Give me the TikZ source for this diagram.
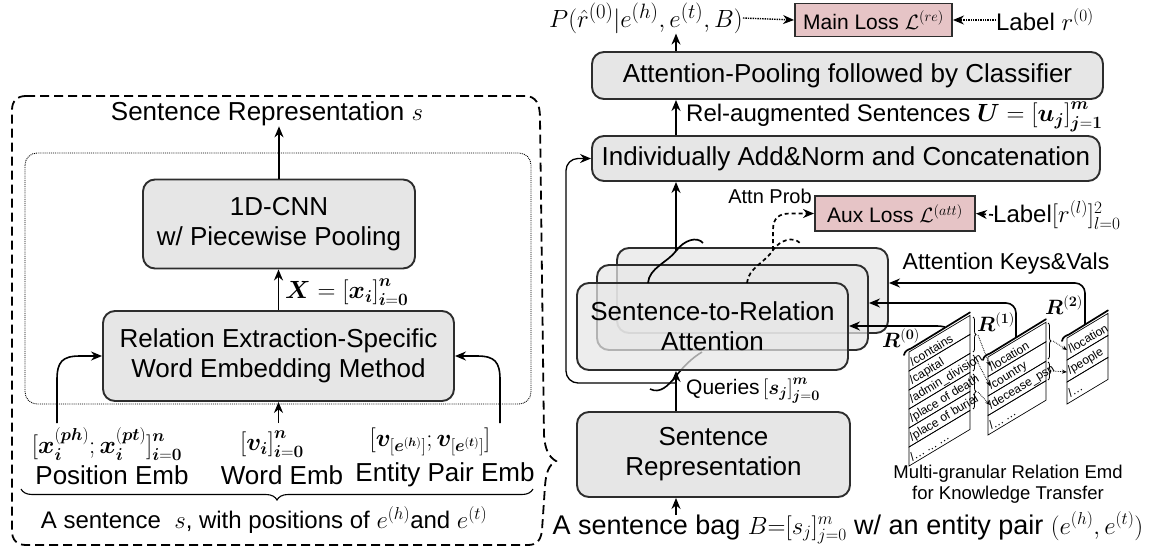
\documentclass[tikz,border=0pt]{standalone}
\usepackage{amsmath,amssymb}
\usepackage[no-math]{fontspec}
\setmainfont{Liberation Sans}
\usetikzlibrary{arrows.meta,decorations.pathreplacing,calc}
\DeclareMathAlphabet{\mathbi}{OML}{cmm}{b}{it}
\definecolor{boxfill}{RGB}{230,230,230}
\definecolor{pinkfill}{RGB}{230,196,198}
\definecolor{edgecol}{RGB}{45,45,45}
\newcommand{\tabdots}{.\kern0.5pt.\kern0.5pt.}
\newcommand{\reltab}[5]{%
  \foreach \txt [count=\k] in {#5} {
    \pgfmathsetmacro\ya{#2+(\k-1)*#4}
    \pgfmathsetmacro\yb{#2+\k*#4}
    \pgfmathsetmacro\ym{#2+(\k-0.5)*#4}
    \draw[tabline] (#1,\ya) -- (#1+#3,\ya-0.6*#3) -- (#1+#3,\yb-0.6*#3) -- (#1,\yb) -- cycle;
    \node[tabtxt] at (#1+1.5,\ym+1) {\txt};
  }
  \draw[line width=1.7pt, line cap=round] (#1-5,#2+3) .. controls (#1-4,#2-1) and (#1-2,#2-2) .. (#1+2,#2-3.5) -- (#1+#3,#2-0.6*#3-3);
}
\begin{document}
\begin{tikzpicture}[x=1pt,y=-1pt,
  rbox/.style={draw=edgecol, line width=1.9pt, fill=boxfill, rounded corners=12pt, align=center, inner sep=0pt, font=\fontsize{26}{30}\selectfont},
  stackbox/.style={rbox, fill opacity=0.72, text opacity=1},
  lossbox/.style={draw=edgecol, line width=1.9pt, fill=pinkfill, inner sep=0pt, font=\fontsize{21}{24}\selectfont},
  arr/.style={-{Stealth[length=11pt,width=9pt]}, line width=1.6pt},
  dotarr/.style={-{Stealth[length=11pt,width=9pt]}, line width=1.4pt, densely dotted},
  dasharr/.style={-{Stealth[length=11pt,width=9pt]}, line width=1.7pt, dash pattern=on 4pt off 3pt},
  ltxt/.style={font=\fontsize{24}{28}\selectfont, inner sep=0pt},
  btxt/.style={font=\fontsize{26}{30}\selectfont, inner sep=0pt},
  stxt/.style={font=\fontsize{20}{23}\selectfont, inner sep=0pt},
  tabline/.style={line width=0.7pt},
  tabtxt/.style={font=\fontsize{12}{13}\selectfont, inner sep=0pt, anchor=west, rotate=31},
  smallbrace/.style={decorate, decoration={brace, amplitude=3pt}, line width=0.8pt},
  tabarr/.style={-{Stealth[length=5pt,width=4pt]}, line width=0.8pt, densely dotted},
]
\useasboundingbox (0,0) rectangle (1157,550);

%================ LEFT PART =================
\draw[line width=1.8pt, dash pattern=on 9pt off 5pt]
  (26,96) -- (525,96) .. controls (536,96) and (540,104) .. (540,118)
  -- (544,435) .. controls (545,450) and (549,457) .. (556,461)
  .. controls (549,465) and (546,472) .. (545,486)
  -- (542,530) .. controls (541,540) and (537,545) .. (528,545)
  -- (26,545) .. controls (17,545) and (12,540) .. (12,531)
  -- (12,110) .. controls (12,101) and (17,96) .. (26,96);
\draw[line width=0.9pt, densely dotted, rounded corners=12pt] (25,153) rectangle (531,404);

\node[btxt] (srs) at (267,114) {Sentence Representation $s$};
\node[rbox, minimum width=272pt, minimum height=89pt] (cnn) at (279,224) {1D-CNN\\w/ Piecewise Pooling};
\node[rbox, minimum width=351pt, minimum height=90pt] (re) at (278.5,356) {Relation Extraction-Specific\\Word Embedding Method};
\node[ltxt, anchor=west] (xlab) at (285,292) {$\mathbi{X}=\mathbf{[}\mathbi{x}_{\mathbi{i}}\mathbf{]}_{\mathbi{i}=\mathbf{0}}^{\mathbi{n}}$};

\draw[arr] (cnn.north) -- (cnn.north |- srs.south);
\draw[arr] (re.north) -- (re.north |- cnn.south);

\node[ltxt] (pe) at (107,444) {$\mathbf{[}\mathbi{x}_{\mathbi{i}}^{\mathbf{(}\mathbi{ph}\mathbf{)}}\mathbf{;}\,\mathbi{x}_{\mathbi{i}}^{\mathbf{(}\mathbi{pt}\mathbf{)}}\mathbf{]}_{\mathbi{i}=\mathbf{0}}^{\mathbi{n}}$};
\node[ltxt] (we) at (272,444) {$\mathbf{[}\mathbi{v}_{\mathbi{i}}\mathbf{]}_{\mathbi{i}=\mathbf{0}}^{\mathbi{n}}$};
\node[ltxt] (ee) at (430,442) {$\mathbf{[}\mathbi{v}_{\mathbf{[}\mathbi{e}^{\mathbf{(}\mathbi{h}\mathbf{)}}\mathbf{]}}\mathbf{;}\,\mathbi{v}_{\mathbf{[}\mathbi{e}^{\mathbf{(}\mathbi{t}\mathbf{)}}\mathbf{]}}\mathbf{]}$};
\node[btxt] (pet) at (112,475) {Position Emb};
\node[btxt] (wet) at (282,475) {Word Emb};
\node[btxt] (eet) at (445,475) {Entity Pair Emb};
\coordinate (pL) at (57,423);
\coordinate (pM) at (278.5,423);
\coordinate (pR) at (500,423);
\draw[arr] (pL) -- (57,380) .. controls (57,362) and (62,356) .. (80,356) -- (re.west);
\draw[arr] (pR) -- (500,380) .. controls (500,362) and (495,356) .. (477,356) -- (re.east);
\draw[arr] (pM) -- (re.south);
\draw[decorate, decoration={brace, amplitude=11pt}, line width=1.1pt] (533,489) -- (21,489);
\node[ltxt] (sent) at (264,520) {A sentence ~$s$, with positions of $e^{(h)}$and $e^{(t)}$};

%================ RIGHT PART =================
\node[inner sep=0pt, font=\fontsize{28.5}{32}\selectfont] (ptext) at (646,18) {$P(\hat{r}^{(0)}|e^{(h)},e^{(t)},B)$};
\node[lossbox, minimum width=157pt, minimum height=33pt] (main) at (873.5,20) {Main Loss $\mathcal{L}^{(re)}$};
\node[ltxt] (labr) at (1045,20) {Label $r^{(0)}$};
\draw[dotarr] (ptext.east) -- (main.west);
\draw[dotarr] (labr.west) -- (main.east);

\node[rbox, minimum width=511pt, minimum height=47pt] (pool) at (847.5,75.5) {Attention-Pooling followed by Classifier};
\node[rbox, minimum width=508pt, minimum height=45pt] (ind) at (846,158.5) {Individually Add\&Norm and Concatenation};
\coordinate (j1) at (676,251);
\draw[arr] (j1 |- pool.north) -- (j1 |- ptext.south);
\draw[arr] (j1 |- ind.north) -- (j1 |- pool.south);
\node[ltxt, anchor=west] (rel) at (686,117) {Rel-augmented Sentences $\mathbi{U}=\mathbf{[}\mathbi{u}_{\mathbi{j}}\mathbf{]}_{\mathbi{j}=\mathbf{1}}^{\mathbi{m}}$};

% bottom wiggle (seen through front box)
\draw[line width=1.6pt] (650,389) .. controls (660,394) and (668,386) .. (676,376) .. controls (684,366) and (692,358) .. (702,352);

\node[stackbox, minimum width=271pt, minimum height=85pt] (back) at (752.5,290.5) {};
\node[stackbox, minimum width=271pt, minimum height=85pt] (mid) at (732.5,307.5) {};
\node[stackbox, minimum width=271pt, minimum height=87pt] (front) at (712.5,326.5) {Sentence-to-Relation\\Attention};

\draw[line width=1.7pt] (648,283) .. controls (649,268) and (668,262) .. (j1) .. controls (684,240) and (697,236) .. (703,243);
\draw[arr] (j1) -- (j1 |- ind.south);

\node[lossbox, minimum width=160pt, minimum height=35pt] (aux) at (895,213.5) {Aux Loss $\mathcal{L}^{(att)}$};
\node[stxt] (attnp) at (770,196) {Attn Prob};
\node[ltxt, anchor=west] (labl) at (993,215) {Label$[r^{(l)}]_{l=0}^{2}$};
\draw[dasharr] (labl.west) -- (aux.east);
\coordinate (j2) at (773,250);
\draw[line width=1.7pt, dash pattern=on 4pt off 3pt] (747,283) .. controls (748,268) and (766,262) .. (j2) .. controls (780,240) and (793,236) .. (800,243);
\draw[dasharr] (j2) -- (773,230) .. controls (773,218) and (779,213.5) .. (790,213.5) -- (aux.west);

% sentence representation (bag) and queries
\node[rbox, minimum width=273pt, minimum height=85pt] (srep) at (713.5,454.5) {Sentence\\Representation};
\draw[arr] (j1 |- srep.north) -- (j1 |- front.south);
\node[stxt, anchor=west, font=\fontsize{21}{24}\selectfont] (qlab) at (686,391) {Queries$\,\mathbf{[}\mathbi{s}_{\mathbi{j}}\mathbf{]}_{\mathbi{j}=\mathbf{0}}^{\mathbi{m}}$};
\coordinate (jq) at (676,383);
\draw[arr, line width=1.3pt, rounded corners=12pt] (jq) -- (566,383) -- (566,158.5) -- (ind.west);
\node[inner sep=0pt, font=\fontsize{27}{30}\selectfont] (bag) at (848,528) {A sentence bag $B{=}[s_j]_{j=0}^{m}$ w/ an entity pair $(e^{(h)},e^{(t)})$};
\coordinate (jb) at (676,515);
\draw[arr] (jb) -- (jb |- srep.south);

% relation tables
\reltab{909}{352}{61}{19}{/contains,/capital,/admin\_division,/place of death,/place of burial,/\tabdots\ \tabdots\ \tabdots}
\reltab{988}{357}{58}{19.5}{/location,/country,/decease\_psn,/\tabdots\ \tabdots}
\reltab{1067}{338}{41}{22}{/location,/people,/\tabdots}
\draw[smallbrace] (973,317) -- (973,352);
\draw[smallbrace] (973,355) -- (973,371);
\draw[smallbrace] (973,374) -- (973,409);
\draw[tabarr] (978,335) -- (990,366);
\draw[tabarr] (978,363) -- (990,386);
\draw[tabarr] (978,392) -- (990,405);
\draw[smallbrace] (1048,323) -- (1048,359);
\draw[smallbrace] (1048,362) -- (1048,380);
\draw[tabarr] (1053,341) -- (1067,350);
\draw[tabarr] (1053,371) -- (1067,372);

\coordinate (k0) at (945,327);
\coordinate (k1) at (1016,337);
\coordinate (k2) at (1085,324);
\draw[arr] (k0) .. controls (941,326) .. (932,326) -- ($(front.east)+(0,-0.5)$);
\draw[arr, rounded corners=10pt] (k1) -- (1016,303) -- ($(mid.east)+(0,-4.5)$);
\draw[arr, rounded corners=10pt] (k2) -- (1085,283) -- ($(back.east)+(0,-7.5)$);
\node[stxt] (r0) at (901,338) {$\mathbi{R}^{\mathbf{(0)}}$};
\node[stxt] (r1) at (996,322) {$\mathbi{R}^{\mathbf{(1)}}$};
\node[stxt] (r2) at (1064,305) {$\mathbi{R}^{\mathbf{(2)}}$};
\node[ltxt, font=\fontsize{23}{26}\selectfont] (keys) at (1006,264) {Attention Keys\&Vals};
\node[align=center, inner sep=0pt, font=\fontsize{18.5}{21}\selectfont] (multi) at (1008,484) {Multi-granular Relation Emd\\for Knowledge Transfer};
\end{tikzpicture}
\end{document}
